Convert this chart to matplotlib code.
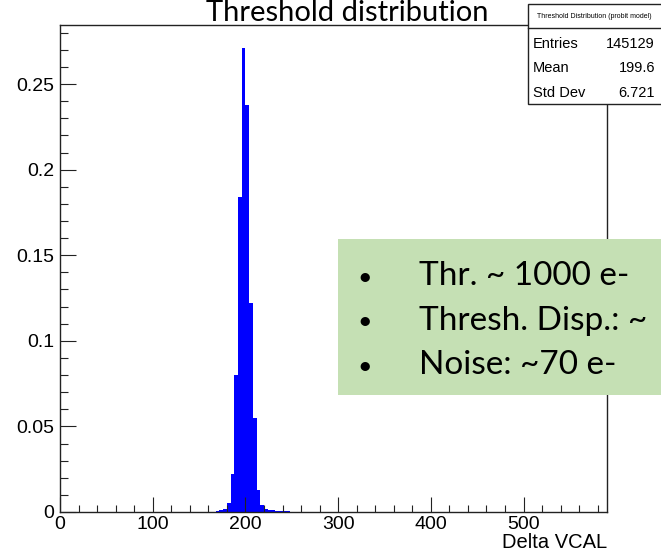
import matplotlib.pyplot as plt
import matplotlib.patches as mpatches
from matplotlib.lines import Line2D
from matplotlib.ticker import MultipleLocator, FuncFormatter

# histogram of threshold (normalised)
bin_edges = [168, 172, 176, 180, 184, 188, 192, 196, 200, 204, 208,
             212, 216, 220, 224, 228, 232, 236, 240, 244, 248]
fraction = [0.0008, 0.001, 0.0015, 0.005, 0.022, 0.080, 0.184, 0.271,
            0.238, 0.122, 0.055, 0.013, 0.004, 0.0015, 0.001, 0.001,
            0.0008, 0.0008, 0.0006, 0.0005]

stat_names = ['Entries', 'Mean', 'Std Dev']
stat_values = ['145129', '199.6', '6.721']
notes = ['Thr. ~ 1000 e-', 'Thresh. Disp.: ~', 'Noise: ~70 e-']

W, H = 661, 551
fx = lambda px: px / W
fy = lambda py: 1 - py / H

root_font = 'Liberation Sans'
slide_font = 'Lato'

fig = plt.figure(figsize=(W / 100, H / 100), dpi=100)
ax = fig.add_axes([fx(60), fy(512), fx(607) - fx(60), fy(25) - fy(512)])

ax.stairs(fraction, bin_edges, fill=True, color='#0000ff', lw=0)

ax.set_xlim(0, 590)
ax.set_ylim(0, 0.2845)
ax.xaxis.set_major_locator(MultipleLocator(100))
ax.xaxis.set_minor_locator(MultipleLocator(20))
ax.yaxis.set_major_locator(MultipleLocator(0.05))
ax.yaxis.set_minor_locator(MultipleLocator(0.01))
ax.yaxis.set_major_formatter(FuncFormatter(lambda v, p: '%g' % round(v, 3)))
ax.xaxis.set_major_formatter(FuncFormatter(lambda v, p: '%g' % v))

ax.tick_params(which='both', direction='in', top=False, right=False,
               color='#222222', width=0.8, labelsize=14, pad=4)
ax.tick_params(axis='x', which='major', length=10.5, pad=3)
ax.tick_params(axis='x', which='minor', length=5.3)
ax.tick_params(axis='y', which='major', length=11.5)
ax.tick_params(axis='y', which='minor', length=5.8)
for lab in ax.get_xticklabels() + ax.get_yticklabels():
    lab.set_fontfamily(root_font)
for s in ax.spines.values():
    s.set_linewidth(1.0)
    s.set_color('#222222')

ax.text(1.0, -0.0625, 'Delta VCAL', transform=ax.transAxes, ha='right',
        va='center', fontsize=14.5, family=root_font)

# title (partly cut at the top of the image)
fig.text(fx(347), fy(21), 'Threshold distribution', ha='center',
         va='baseline', fontsize=21, family=slide_font)

# stats box
fig.add_artist(mpatches.Rectangle((fx(528), fy(104)), fx(670) - fx(528),
                                  fy(4) - fy(104), transform=fig.transFigure,
                                  fc='white', ec='#222222', lw=1.0, zorder=5))
fig.add_artist(Line2D([fx(528), fx(670)], [fy(28), fy(28)],
                      transform=fig.transFigure, color='#222222', lw=1.0,
                      zorder=6))
fig.text(fx(594), fy(16), 'Threshold Distribution (probit model)',
         ha='center', va='center', fontsize=5, family=root_font, zorder=7)
for i, (n, v) in enumerate(zip(stat_names, stat_values)):
    yc = 44 + 24.5 * i
    fig.text(fx(533), fy(yc), n, ha='left', va='center', fontsize=10.5,
             family=root_font, zorder=7)
    fig.text(fx(655), fy(yc), v, ha='right', va='center', fontsize=10.5,
             family=root_font, zorder=7)

# green note box
fig.add_artist(mpatches.Rectangle((fx(338), fy(395)), fx(670) - fx(338),
                                  fy(239) - fy(395), transform=fig.transFigure,
                                  fc='#c5e0b4', ec='none', zorder=5))
for i, t in enumerate(notes):
    yb = 285 + 44.5 * i
    fig.text(fx(365), fy(yb), '\u2022', ha='center', va='baseline',
             fontsize=18, family=slide_font, zorder=7)
    fig.text(fx(419), fy(yb), t, ha='left', va='baseline', fontsize=24,
             family=slide_font, zorder=7)

fig.savefig('out.png', dpi=100)
